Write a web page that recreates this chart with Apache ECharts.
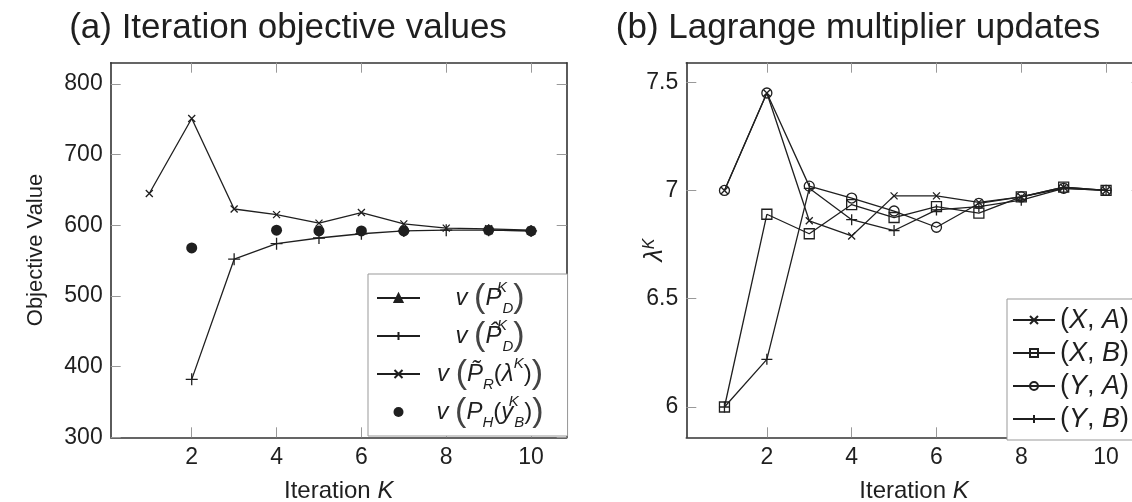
<!DOCTYPE html>
<html>
<head>
<meta charset="utf-8">
<script src="https://cdn.jsdelivr.net/npm/echarts@6/dist/echarts.min.js"></script>
<style>
  html, body { margin: 0; padding: 0; background: #fff; }
  #chart { width: 1132px; height: 502px; }
</style>
</head>
<body>
<div id="chart"></div>
<script>
// iterations K
var iterations = [1, 2, 3, 4, 5, 6, 7, 8, 9, 10];

// (a) objective values
var objPD     = [null, null, null, null, null, null, null, null, 593, 592];
var objPHatD  = [null, 382, 552, 574, 582, 588, 592, 593, 593, 592];
var objPR     = [645, 751, 623, 615, 603, 618, 602, 596, 595, 593];
var objPH     = [null, 568, null, 593, 592, 592, 592, null, 593, 592];

// (b) lagrange multipliers
var lamXA = [7.0, 7.45, 6.86, 6.79, 6.975, 6.975, 6.945, 6.97, 7.015, 7.0];
var lamXB = [6.0, 6.89, 6.80, 6.935, 6.875, 6.925, 6.895, 6.97, 7.015, 7.0];
var lamYA = [7.0, 7.45, 7.02, 6.965, 6.905, 6.83, 6.94, 6.97, 7.01, 7.0];
var lamYB = [6.0, 6.22, 7.01, 6.865, 6.815, 6.91, 6.925, 6.955, 7.01, 7.0];

// tick labels
var xTicks = [2, 4, 6, 8, 10];
var objTicks = [300, 400, 500, 600, 700, 800];
var lamTicks = [6, 6.5, 7, 7.5];

var INK = '#1f1f1f';
var FONT = 'Liberation Sans';
var PLUS = 'path://M5,0L5,10M0,5L10,5';
var CROSS = 'path://M0,0L10,10M10,0L0,10';

function pairs(xs, ys) {
  var out = [];
  for (var i = 0; i < xs.length; i++) {
    if (ys[i] !== null) out.push([xs[i], ys[i]]);
  }
  return out;
}

var chart = echarts.init(document.getElementById('chart'), null, { renderer: 'canvas' });

function xAxis(grid, min, max, pos) {
  var main = pos === 'bottom';
  return {
    type: 'value', gridIndex: grid, position: pos, min: min, max: max,
    name: main ? '{n|Iteration }{k|K}' : '',
    nameLocation: 'middle', nameGap: 42, nameMoveOverlap: false,
    nameTextStyle: {
      fontFamily: FONT, fontSize: 24, color: INK,
      rich: {
        n: { fontFamily: FONT, fontSize: 24, color: INK },
        k: { fontFamily: FONT, fontSize: 24, color: INK, fontStyle: 'italic' }
      }
    },
    axisLine: { show: true, onZero: false, lineStyle: { color: '#333', width: 1.6 } },
    axisTick: { show: true, inside: true, length: 10, customValues: xTicks, lineStyle: { color: '#999', width: 1 } },
    axisLabel: { show: main, customValues: xTicks, margin: 9, fontFamily: FONT, fontSize: 23, color: INK },
    splitLine: { show: false }
  };
}

function yAxis(grid, min, max, pos, ticks, extra) {
  var main = pos === 'left';
  var ax = {
    type: 'value', gridIndex: grid, position: pos, min: min, max: max,
    nameMoveOverlap: false,
    axisLine: { show: true, onZero: false, lineStyle: { color: '#333', width: 1.6 } },
    axisTick: { show: true, inside: true, length: 10, customValues: ticks, lineStyle: { color: '#999', width: 1 } },
    axisLabel: { show: main, customValues: ticks, margin: 8, fontFamily: FONT, fontSize: 23, color: INK },
    splitLine: { show: false }
  };
  if (main && extra) Object.assign(ax, extra);
  return ax;
}

function lineSeries(name, xi, yi, data, symbol, size, fill) {
  return {
    name: name, type: 'line', xAxisIndex: xi, yAxisIndex: yi,
    data: data, symbol: symbol, symbolSize: size, showSymbol: true,
    lineStyle: { color: INK, width: 1.3 },
    itemStyle: { color: fill, borderColor: INK, borderWidth: 1.3 },
    z: 3
  };
}

var legendRich = {
  v: { fontFamily: FONT, fontSize: 24, fontStyle: 'italic', color: INK, lineHeight: 36, align: 'center' },
  p: { fontFamily: FONT, fontSize: 34, color: '#444', lineHeight: 36, align: 'center' },
  n: { fontFamily: FONT, fontSize: 24, color: INK, lineHeight: 36, align: 'center' },
  P: { fontFamily: FONT, fontSize: 24, fontStyle: 'italic', color: INK, lineHeight: 36, align: 'center' },
  sup: { fontFamily: FONT, fontSize: 15, fontStyle: 'italic', color: INK, lineHeight: 22, verticalAlign: 'top', align: 'center' },
  supS: { fontFamily: FONT, fontSize: 15, fontStyle: 'italic', color: INK, lineHeight: 22, verticalAlign: 'top', width: 1, align: 'center' },
  sub: { fontFamily: FONT, fontSize: 15, fontStyle: 'italic', color: INK, lineHeight: 21, verticalAlign: 'bottom', align: 'center' }
};

var legendText = {
  pD: '{v|v} {p|(}{P|P}{supS|K}{sub|D}{p|)}',
  pHatD: '{v|v} {p|(}{P|P\u0302}{supS|K}{sub|D}{p|)}',
  pR: '{v|v} {p|(}{P|P\u0303}{sub|R}{n|(}{P|\u03bb}{sup|K}{n|)}{p|)}',
  pH: '{v|v} {p|(}{P|P}{sub|H}{n|(}{P|y}{supS|K}{sub|B}{n|)}{p|)}',
  XA: '{n|(}{m|X}{n|, }{m|A}{n|)}',
  XB: '{n|(}{m|X}{n|, }{m|B}{n|)}',
  YA: '{n|(}{m|Y}{n|, }{m|A}{n|)}',
  YB: '{n|(}{m|Y}{n|, }{m|B}{n|)}'
};

var option = {
  backgroundColor: '#fff',
  animation: false,
  title: [{
    text: '(a) Iteration objective values', left: 288, top: 11, textAlign: 'center', padding: 0,
    textStyle: { fontFamily: FONT, fontSize: 35, fontWeight: 'normal', color: INK }
  }, {
    text: '(b) Lagrange multiplier updates', left: 858, top: 11, textAlign: 'center', padding: 0,
    textStyle: { fontFamily: FONT, fontSize: 35, fontWeight: 'normal', color: INK }
  }],
  grid: [
    { left: 110.7, top: 62.7, width: 456, height: 374.6, outerBoundsMode: 'none', containLabel: false },
    { left: 686.3, top: 62.7, width: 455.4, height: 374.6, outerBoundsMode: 'none', containLabel: false }
  ],
  xAxis: [
    xAxis(0, 0.09, 10.84, 'bottom'),
    xAxis(0, 0.09, 10.84, 'top'),
    xAxis(1, 0.1, 10.84, 'bottom'),
    xAxis(1, 0.1, 10.84, 'top')
  ],
  yAxis: [
    yAxis(0, 300, 830, 'left', objTicks, {
      name: 'Objective Value', nameLocation: 'middle', nameGap: 64, nameRotate: 90,
      nameTextStyle: { fontFamily: FONT, fontSize: 22, color: INK }
    }),
    yAxis(0, 300, 830, 'right', objTicks),
    yAxis(1, 5.86, 7.59, 'left', lamTicks, {
      name: '{l|\u03bb}{k|K}', nameLocation: 'middle', nameGap: 17, nameRotate: 90,
      nameTextStyle: {
        fontFamily: FONT, fontSize: 24, color: INK,
        rich: {
          l: { fontFamily: FONT, fontSize: 25, fontStyle: 'italic', color: INK, lineHeight: 28 },
          k: { fontFamily: FONT, fontSize: 16, fontStyle: 'italic', color: INK, lineHeight: 18, verticalAlign: 'top' }
        }
      }
    }),
    yAxis(1, 5.86, 7.59, 'right', lamTicks)
  ],
  legend: [{
    data: ['pD', 'pHatD', 'pR', 'pH'],
    orient: 'vertical', left: 368, top: 274,
    itemWidth: 43, itemHeight: 10, itemGap: 2,
    padding: [6, 24, 6, 8],
    backgroundColor: '#fff', borderColor: '#999', borderWidth: 1,
    selectedMode: false,
    formatter: function (name) { return legendText[name]; },
    textStyle: { fontFamily: FONT, fontSize: 24, color: INK, width: 130, rich: legendRich }
  }, {
    data: ['XA', 'XB', 'YA', 'YB'],
    orient: 'vertical', left: 1007, top: 299,
    itemWidth: 42, itemHeight: 10, itemGap: 3,
    padding: [6, 40, 6, 5],
    backgroundColor: '#fff', borderColor: '#999', borderWidth: 1,
    selectedMode: false,
    formatter: function (name) { return legendText[name]; },
    textStyle: {
      fontFamily: FONT, fontSize: 27, color: INK, lineHeight: 30,
      rich: {
        n: { fontFamily: FONT, fontSize: 27, color: INK, lineHeight: 30 },
        m: { fontFamily: FONT, fontSize: 27, fontStyle: 'italic', color: INK, lineHeight: 30 }
      }
    }
  }],
  series: [
    lineSeries('pD', 0, 0, pairs(iterations, objPD), 'triangle', 7, INK),
    lineSeries('pHatD', 0, 0, pairs(iterations, objPHatD), PLUS, 12, 'transparent'),
    lineSeries('pR', 0, 0, pairs(iterations, objPR), CROSS, 7, 'transparent'),
    {
      name: 'pH', type: 'scatter', xAxisIndex: 0, yAxisIndex: 0,
      data: pairs(iterations, objPH), symbol: 'circle', symbolSize: 11,
      itemStyle: { color: INK, opacity: 1 }, z: 4
    },
    lineSeries('XA', 2, 2, pairs(iterations, lamXA), CROSS, 7, 'transparent'),
    lineSeries('XB', 2, 2, pairs(iterations, lamXB), 'rect', 10, 'transparent'),
    lineSeries('YA', 2, 2, pairs(iterations, lamYA), 'circle', 10, 'transparent'),
    lineSeries('YB', 2, 2, pairs(iterations, lamYB), PLUS, 11, 'transparent')
  ]
};

chart.setOption(option);
</script>
</body>
</html>
